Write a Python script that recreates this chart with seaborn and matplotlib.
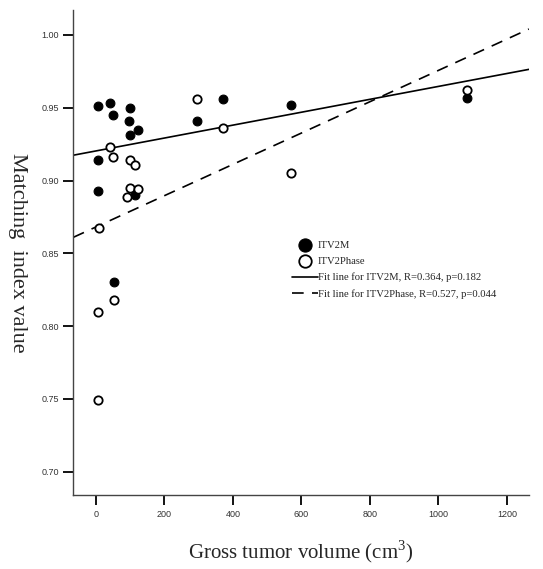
import matplotlib
matplotlib.use("Agg")
import matplotlib.pyplot as plt
import seaborn as sns
import pandas as pd

# Values
vol_2m = [7, 7, 7, 41, 51, 53, 96, 99, 99, 114, 123, 296, 372, 570, 1082]
itv2m = [0.951, 0.914, 0.893, 0.953, 0.945, 0.830, 0.941, 0.950, 0.931,
         0.890, 0.935, 0.941, 0.956, 0.952, 0.957]

vol_phase = [6, 6, 8, 41, 51, 53, 90, 99, 99, 113, 124, 296, 372, 570, 1082]
itv2phase = [0.810, 0.749, 0.8675, 0.923, 0.916, 0.818, 0.889, 0.914, 0.895,
             0.911, 0.894, 0.956, 0.936, 0.905, 0.962]

label_2m = "ITV2M"
label_phase = "ITV2Phase"
fit_label_2m = "Fit line for ITV2M, R=0.364, p=0.182"
fit_label_phase = "Fit line for ITV2Phase, R=0.527, p=0.044"

x_ticks = [0, 200, 400, 600, 800, 1000, 1200]
y_ticks = [0.70, 0.75, 0.80, 0.85, 0.90, 0.95, 1.00]

df_2m = pd.DataFrame({"volume": vol_2m, "value": itv2m})
df_phase = pd.DataFrame({"volume": vol_phase, "value": itv2phase})

sns.set_style("ticks")
plt.rcParams["font.family"] = ["Liberation Sans", "DejaVu Sans"]
plt.rcParams["mathtext.fontset"] = "custom"
plt.rcParams["mathtext.rm"] = "Liberation Serif"

fig, ax = plt.subplots(figsize=(5.43, 5.69), dpi=100)
fig.subplots_adjust(left=0.135, right=0.974, bottom=0.130, top=0.982)

ax.set_xlim(-66, 1264)
ax.set_ylim(0.684, 1.017)

# fit lines span the full x range
sns.regplot(data=df_2m, x="volume", y="value", ax=ax, ci=None, truncate=False,
            scatter=False, line_kws={"color": "black", "lw": 1.2, "ls": "-"},
            label=fit_label_2m)
sns.regplot(data=df_phase, x="volume", y="value", ax=ax, ci=None, truncate=False,
            scatter=False, line_kws={"color": "black", "lw": 1.2, "ls": (0, (7, 5))},
            label=fit_label_phase)

sns.scatterplot(data=df_2m, x="volume", y="value", ax=ax, s=40, color="black",
                edgecolor="black", linewidth=0.8, label=label_2m, zorder=3)
sns.scatterplot(data=df_phase, x="volume", y="value", ax=ax, s=36, color="white",
                edgecolor="black", linewidth=1.3, label=label_phase, zorder=3)

ax.set_xticks(x_ticks)
ax.set_yticks(y_ticks)
ax.set_yticklabels([f"{v:.2f}" for v in y_ticks])
ax.set_xlim(-66, 1264)
ax.set_ylim(0.684, 1.017)
ax.tick_params(labelsize=6.5, labelcolor="#333333", length=7, width=1.3, color="black")
for side in ["left", "bottom"]:
    ax.spines[side].set_color("#444444")
    ax.spines[side].set_linewidth(1.0)
sns.despine(ax=ax)

ax.set_xlabel("Gross tumor volume (cm$^{\\mathrm{3}}$)", family=["Liberation Serif"],
              fontsize=15, labelpad=14)
ax.set_ylabel("Matching  index value", family=["Liberation Serif"],
              fontsize=16, rotation=270, labelpad=24)

handles, labels = ax.get_legend_handles_labels()
order = [labels.index(l) for l in [label_2m, label_phase, fit_label_2m, fit_label_phase]]
ax.legend([handles[i] for i in order], [labels[i] for i in order],
          loc="upper left", bbox_to_anchor=(0.469, 0.536), frameon=False,
          borderpad=0, handlelength=2.4, handletextpad=0.0, labelspacing=0.62,
          markerscale=1.5, prop={"family": "Liberation Serif", "size": 7.7})

fig.savefig("out.png", dpi=100)
